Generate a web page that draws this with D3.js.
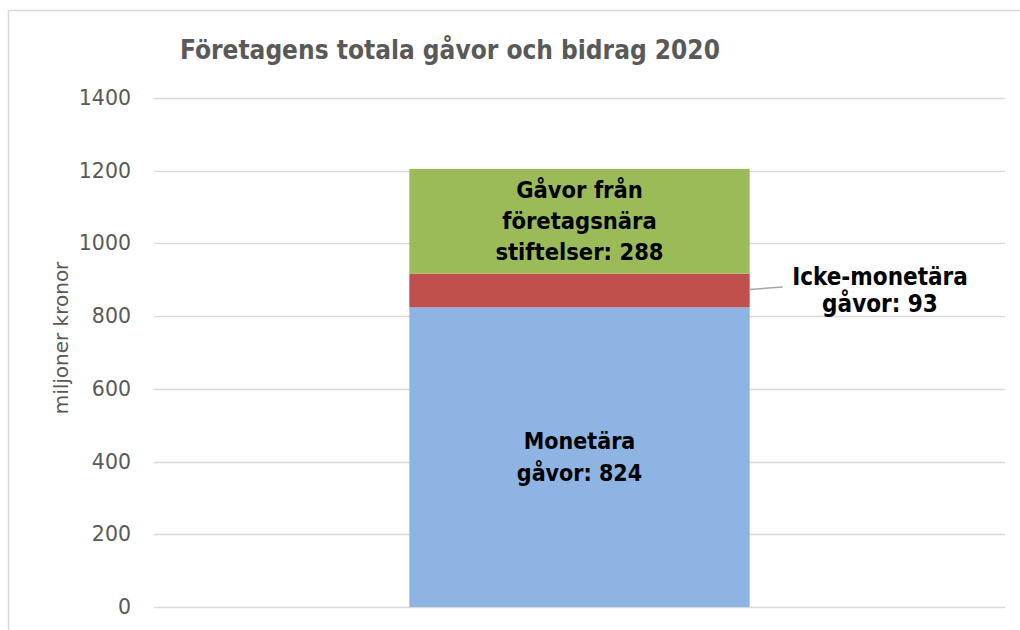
<!DOCTYPE html>
<html><head><meta charset="utf-8">
<script src="https://cdn.jsdelivr.net/npm/d3@7"></script>
<style>
html,body{margin:0;padding:0;background:#fff;}
svg{display:block;}
</style></head>
<body>
<svg id="chart" width="1020" height="630"></svg>
<script>
const title = "Företagens totala gåvor och bidrag 2020";
const yAxisTitle = "miljoner kronor";
const categories = ["2020"];
const seriesNames = ["Monetära gåvor", "Icke-monetära gåvor", "Gåvor från företagsnära stiftelser"];
const seriesValues = [824, 93, 288];
const seriesColors = ["#8EB4E3", "#C0504D", "#9BBB59"];
const seriesLabelLines = [["Monetära", "gåvor: 824"], ["Icke-monetära", "gåvor: 93"], ["Gåvor från", "företagsnära", "stiftelser: 288"]];
const yTicks = [0, 200, 400, 600, 800, 1000, 1200, 1400];

const svg = d3.select("#chart");
const W = 1020, H = 630;
const m = {left: 154, right: 15, top: 98, bottom: 23};
const plotW = W - m.left - m.right, plotH = H - m.top - m.bottom;

// outer frame
svg.append("line").attr("x1", 8.5).attr("x2", W).attr("y1", 10.5).attr("y2", 10.5).attr("stroke", "#D9D9D9").attr("stroke-width", 1.5);
svg.append("line").attr("x1", 8.5).attr("x2", 8.5).attr("y1", 10).attr("y2", H).attr("stroke", "#D9D9D9").attr("stroke-width", 1.5);

const x = d3.scaleBand().domain(categories).range([m.left, m.left + plotW]).padding(0.4286);
const y = d3.scaleLinear().domain([0, 1400]).range([m.top + plotH, m.top]);

// gridlines
svg.append("g").selectAll("line").data(yTicks).join("line")
  .attr("x1", m.left).attr("x2", m.left + plotW)
  .attr("y1", d => Math.round(y(d)) + 0.5).attr("y2", d => Math.round(y(d)) + 0.5)
  .attr("stroke", "#D9D9D9").attr("stroke-width", 1.5);

// y axis labels
const yAxis = d3.axisLeft(y).tickValues(yTicks).tickSize(0).tickPadding(23).tickFormat(d3.format("d"));
const gy = svg.append("g").attr("transform", `translate(${m.left},0)`).call(yAxis);
gy.select(".domain").remove();
gy.selectAll("text").attr("fill", "#595959").style("font-family", "'DejaVu Sans', sans-serif").style("font-size", "20.5px");

// y axis title
svg.append("text").attr("transform", `translate(61,338) rotate(-90)`)
  .attr("text-anchor", "middle").attr("dy", "0.35em").attr("fill", "#595959")
  .style("font-family", "'DejaVu Sans', sans-serif").style("font-size", "20px")
  .text(yAxisTitle);

const condensed = "'DejaVu Sans Condensed', 'DejaVu Sans', sans-serif";
// title
svg.append("text").attr("x", 180).attr("y", 59)
  .attr("fill", "#595959").style("font-family", condensed)
  .style("font-weight", "bold").style("font-size", "26px").text(title);

// stacked data
const stackData = [];
let acc = 0;
seriesValues.forEach((v, i) => { stackData.push({i, y0: acc, y1: acc + v, v}); acc += v; });

const cat = categories[0];
svg.append("g").selectAll("rect").data(stackData).join("rect")
  .attr("x", x(cat)).attr("width", x.bandwidth())
  .attr("y", d => y(d.y1)).attr("height", d => y(d.y0) - y(d.y1))
  .attr("fill", d => seriesColors[d.i]);

function drawLabel(lines, cx, cy, lh, fs) {
  const t = svg.append("text").attr("text-anchor", "middle").attr("fill", "#000")
    .style("font-family", condensed).style("font-weight", "bold").style("font-size", fs + "px");
  const n = lines.length;
  lines.forEach((ln, k) => {
    t.append("tspan").attr("x", cx).attr("y", cy + (k - (n - 1) / 2) * lh).attr("dy", "0.35em").text(ln);
  });
}
// inside labels
drawLabel(seriesLabelLines[0], x(cat) + x.bandwidth() / 2, y((stackData[0].y0 + stackData[0].y1) / 2), 32, 23);
drawLabel(seriesLabelLines[2], x(cat) + x.bandwidth() / 2, y((stackData[2].y0 + stackData[2].y1) / 2), 31, 23.5);
// outside label for small segment with leader line
const dS = stackData[1];
const lx = x(cat) + x.bandwidth();
svg.append("line").attr("x1", lx).attr("y1", y((dS.y0 + dS.y1) / 2) - 1)
  .attr("x2", lx + 33).attr("y2", y((dS.y0 + dS.y1) / 2) - 3.5)
  .attr("stroke", "#A6A6A6").attr("stroke-width", 1.5);
drawLabel(seriesLabelLines[1], 880, 290, 27, 24);
</script>
</body></html>
